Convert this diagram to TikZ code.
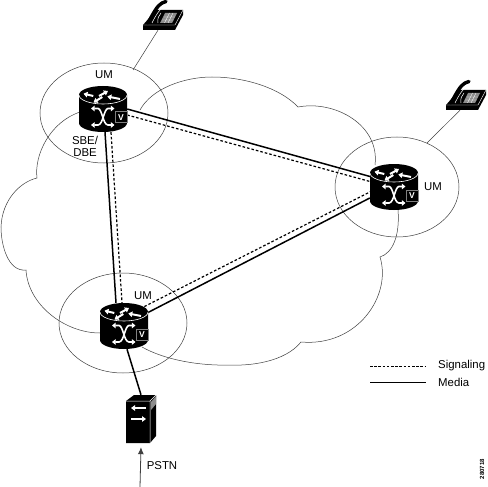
\documentclass[tikz,border=0pt]{standalone}
\usepackage{fontspec}
\setmainfont{Liberation Sans}
\usetikzlibrary{arrows.meta}

\tikzset{
    zone/.style={draw=black!75, line width=0.5pt},
    media/.style={draw=black, line width=1.5pt},
    signaling/.style={draw=black, line width=1.2pt, dash pattern=on 2.6pt off 2pt},
    label/.style={font=\fontsize{11.4}{12}\selectfont, align=center, inner sep=0pt},
    routerbox/.style={minimum width=48pt, minimum height=46pt, inner sep=0pt},
    phonebox/.style={minimum width=40pt, minimum height=28pt, inner sep=0pt},
    serverbox/.style={minimum width=30pt, minimum height=48pt, inner sep=0pt},
    whitearrow/.style={draw=white, line width=2pt, -{Triangle[length=4pt,width=5.5pt]}},
    crossarrow/.style={draw=white, line width=1.6pt, {Triangle[length=3.6pt,width=5.5pt]}-{Triangle[length=3.6pt,width=5.5pt]}},
    router/.pic={
        \fill[black] (-24,-14) -- (-24,14) arc[start angle=180, end angle=360, x radius=24pt, y radius=9pt]
            -- (24,-14) arc[start angle=0, end angle=180, x radius=24pt, y radius=9pt] -- cycle;
        \draw[white, line width=0.6pt] (-24,-14) arc[start angle=180, end angle=360, x radius=24pt, y radius=9pt];
        % arrows on the lid
        \draw[whitearrow] (-9.7,-13) -- (-19.5,-15.3);
        \draw[whitearrow] (-4,-13) -- (5,-18);
        \draw[whitearrow] (-0.7,-12) -- (-9.5,-6.5);
        \draw[whitearrow] (17,-10) -- (4.3,-12.5);
        % crossing arrows on the front
        \draw[crossarrow] (-12,-0.5) -- (-5,-0.5) .. controls (-1,-0.5) and (0,16) .. (5,16) -- (11.5,16);
        \draw[crossarrow] (-12,16) -- (-5,16) .. controls (0,16) and (1,-0.5) .. (5,-0.5) -- (11.5,-0.5);
        % V box
        \draw[black!50, line width=1pt, fill=black] (12,3) rectangle (24,14);
        \node[font=\fontsize{8.5}{8.5}\selectfont\bfseries, text=white, inner sep=0pt] at (18,8.5) {V};
    },
    phone/.pic={
        \fill[black] (-20,9) -- (-20,14) -- (12,14) -- (20,-1) -- (20,-6) -- (-7,-6) -- cycle;
        \draw[white, line width=0.4pt] (-20,9) -- (12,9) -- (20,-6);
        % keypad
        \fill[black!45] (-3,7) -- (9,7) -- (14,-3) -- (2,-3) -- cycle;
        \draw[white, line width=0.3pt] (-1,4) -- (10.5,4) (1,1) -- (12,1) (1.5,7) -- (6.5,-3) (5,7) -- (10,-3);
        % handset
        \draw[black, line width=3.4pt, line cap=round] (-15,7) .. controls (-9,-4) and (-6,-10) .. (-1,-13);
        \draw[black, line width=3.4pt, line cap=round] (-1,-13) -- (3,-14.5);
        \draw[white, line width=0.5pt] (-11,7) .. controls (-7,-1) and (-4,-6) .. (1,-10);
        \draw[white, line width=0.5pt] (-5,7) .. controls (-6,2) and (-4,0) .. (-2,-3);
    },
    server/.pic={
        \fill[black] (-15,-18) -- (-7,-24) -- (15,-24) -- (15,17) -- (9,24) -- (-15,24) -- cycle;
        \draw[white, line width=0.5pt] (-15,-18) -- (9,-18) -- (15,-24) (9,-18) -- (9,24);
        \fill[black!45] (10,-17) -- (15,-23) -- (15,-15) -- (10,-9) -- cycle;
        \draw[white, line width=1.1pt, -{Triangle[length=4pt,width=5.5pt]}] (5,-11) -- (-10,-11);
        \draw[white, line width=1.1pt, -{Triangle[length=4pt,width=5.5pt]}] (-10,0) -- (5,0);
    }
}

\begin{document}
\begin{tikzpicture}[x=1pt, y=-1pt]
    \useasboundingbox (0,0) rectangle (488,487);
    \fill[white] (0,0) rectangle (488,487);

    % Nodes
    \node[routerbox] (routertop) at (103,109) {};
    \node[routerbox] (routerright) at (394,187) {};
    \node[routerbox] (routerbottom) at (124,326) {};
    \node[phonebox] (phonetop) at (163,16) {};
    \node[phonebox] (phoneright) at (466,96) {};
    \node[serverbox] (pstnbox) at (141,419) {};
    \coordinate (pstnin) at (140,487);

    % Cloud
    \draw[zone] (140,110) .. controls (152,88) and (185,77) .. (212,77)
        .. controls (245,77) and (280,88) .. (298,107)
        .. controls (335,100) and (380,125) .. (375,165);
    \draw[zone] (398,210) .. controls (400,235) and (393,253) .. (380,257)
        .. controls (392,295) and (358,347) .. (301,342)
        .. controls (285,362) and (250,366) .. (230,365)
        .. controls (200,366) and (165,360) .. (142,347);
    \draw[zone] (100,333) .. controls (65,333) and (28,305) .. (26,270)
        .. controls (8,272) and (1,245) .. (1,227)
        .. controls (2,200) and (20,182) .. (37,178)
        .. controls (34,155) and (50,122) .. (80,112);

    % Zones
    \draw[zone] (104,113) ellipse [x radius=64pt, y radius=50pt];
    \draw[zone] (397,187) ellipse [x radius=62pt, y radius=50pt];
    \draw[zone] (123,323) ellipse [x radius=64pt, y radius=50pt];

    % Phone lines
    \draw[zone] (phonetop.south) ++(-5,0) -- (133,70);
    \draw[zone] (phoneright.south) ++(-6,0) -- (427,143);

    % Links
    \draw[media] ([yshift=0pt]routertop.east) -- ([xshift=2pt,yshift=10pt]routerright.west);
    \draw[signaling] ([yshift=-6pt]routertop.east) -- ([xshift=2pt,yshift=5pt]routerright.west);
    \draw[signaling] ([xshift=24pt,yshift=9pt]routerbottom.west) -- ([xshift=2pt,yshift=-4pt]routerright.west);
    \draw[media] ([xshift=24pt,yshift=1pt]routerbottom.west) -- ([xshift=0pt,yshift=-11pt]routerright.west);
    \draw[media] ([xshift=2pt]routertop.south) -- ([xshift=-8pt]routerbottom.north);
    \draw[signaling] ([xshift=8pt]routertop.south) -- ([xshift=-2pt]routerbottom.north);
    \draw[media] ([xshift=3pt]routerbottom.south) -- ([yshift=-0pt]pstnbox.north);
    \draw[-{Latex[length=7pt,width=6pt]}, black!75, line width=0.8pt] (pstnin) -- ([yshift=-4pt]pstnbox.south);

    % Icons
    \pic at (routertop) {router};
    \pic at (routerright) {router};
    \pic at (routerbottom) {router};
    \pic at (phonetop) {phone};
    \pic at (phoneright) {phone};
    \pic at (pstnbox) {server};

    % Labels
    \node[label] (lumtop) at (104,75) {UM};
    \node[label] (lsbe) at (85,146) {SBE/\\DBE};
    \node[label] (lumright) at (433,187) {UM};
    \node[label] (lumbottom) at (143,296) {UM};
    \node[label] (lpstn) at (162,466) {PSTN};

    % Legend
    \coordinate (sigstart) at (370,366);
    \coordinate (sigend) at (426,366);
    \coordinate (medstart) at (370,382);
    \coordinate (medend) at (426,382);
    \draw[draw=black, line width=0.9pt, dash pattern=on 2.6pt off 1.6pt] (sigstart) -- (sigend);
    \draw[draw=black, line width=1pt] (medstart) -- (medend);
    \node[label, anchor=west] (lsig) at (438,366) {Signaling};
    \node[label, anchor=west] (lmed) at (438,382) {Media};
    \node[font=\fontsize{6}{6}\selectfont\bfseries, rotate=90, inner sep=0pt] (lid) at (482,469) {280718};
\end{tikzpicture}
\end{document}
